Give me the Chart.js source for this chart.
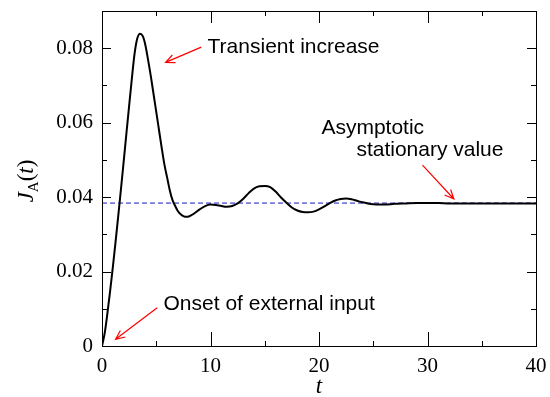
<!DOCTYPE html>
<html>
<head>
<meta charset="utf-8">
<script src="https://cdn.jsdelivr.net/npm/chart.js@4.4.1/dist/chart.umd.min.js"></script>
<style>
  html, body { margin: 0; padding: 0; background: #fff; }
  #wrap { width: 550px; height: 397px; }
</style>
</head>
<body>
<div id="wrap"><canvas id="grafico" width="550" height="397"></canvas></div>
<script>
// valores
const tempos = [0, 0.25, 0.5, 0.75, 1, 1.25, 1.5, 1.75, 2, 2.25, 2.5, 2.75, 3, 3.25, 3.5, 3.75,
  4, 4.25, 4.5, 4.75, 5, 5.25, 5.5, 5.75, 6, 6.25, 6.5, 6.75, 7, 7.25, 7.5, 7.75, 8, 8.5, 9, 9.5,
  10, 10.5, 11, 11.5, 12, 12.5, 13, 13.5, 14, 14.5, 15, 15.5, 16, 16.5, 17, 17.5, 18, 18.5, 19, 19.5,
  20, 20.5, 21, 21.5, 22, 22.5, 23, 23.5, 24, 24.5, 25, 25.5, 26, 27, 28, 29, 30, 31, 32, 33,
  34, 35, 36, 37, 38, 39, 40];
const fluxoJA = [0, 0.0035, 0.0088, 0.0148, 0.0212, 0.028, 0.035, 0.0422, 0.0496, 0.0571, 0.0645, 0.0718,
  0.0785, 0.0826, 0.0839, 0.0833, 0.0808, 0.0768, 0.0725, 0.0677, 0.0629, 0.0581, 0.0533, 0.0488,
  0.0453, 0.0418, 0.0392, 0.0376, 0.0362, 0.0354, 0.0349, 0.0347, 0.0348, 0.0356, 0.0367, 0.0376,
  0.038, 0.0379, 0.0376, 0.0374, 0.0376, 0.0383, 0.0395, 0.041, 0.0423, 0.0429,
  0.043, 0.0427, 0.0415, 0.0399, 0.0385, 0.0372, 0.0364, 0.036, 0.0359, 0.0361,
  0.0367, 0.0375, 0.0384, 0.0391, 0.0395, 0.0396, 0.0394, 0.039, 0.0386, 0.0383,
  0.0381, 0.038, 0.038, 0.0382, 0.0383, 0.0384, 0.0384, 0.0384, 0.0383, 0.0383,
  0.0383, 0.0383, 0.0383, 0.0383, 0.0383, 0.0383, 0.0383];
const valorEstacionario = 0.0384;
const ticksX = [0, 10, 20, 30, 40];
const ticksY = [0, 0.02, 0.04, 0.06, 0.08];

// anotacoes em unidades de dados
const anotacoes = [
  { linhas: ['Transient increase'], t: 9.73, j: 0.0803, seta: [9.15, 0.0803, 5.86, 0.0762] },
  { linhas: ['Asymptotic', 'stationary value'], t: 20.22, j: 0.0585, recuo: [0, 35], passo: 0.0059,
    seta: [29.54, 0.0486, 32.43, 0.0395] },
  { linhas: ['Onset of external input'], t: 5.67, j: 0.01128, seta: [5.09, 0.01028, 1.25, 0.0018] }
];

const pontosCurva = tempos.map((t, i) => ({ x: t, y: fluxoJA[i] }));
const pontosEstacionario = [{ x: 0, y: valorEstacionario }, { x: 40, y: valorEstacionario }];

function seta(ctx, x1, y1, x2, y2) {
  const ang = Math.atan2(y2 - y1, x2 - x1);
  const tam = 10, abre = 0.42;
  ctx.beginPath();
  ctx.moveTo(x1, y1);
  ctx.lineTo(x2, y2);
  ctx.moveTo(x2 - tam * Math.cos(ang - abre), y2 - tam * Math.sin(ang - abre));
  ctx.lineTo(x2, y2);
  ctx.lineTo(x2 - tam * Math.cos(ang + abre), y2 - tam * Math.sin(ang + abre));
  ctx.stroke();
}

const moldura = {
  id: 'moldura',
  afterDraw(chart) {
    const ctx = chart.ctx;
    const a = chart.chartArea;
    const sx = chart.scales.x, sy = chart.scales.y;
    ctx.save();
    ctx.strokeStyle = '#000';
    ctx.lineWidth = 1;
    ctx.strokeRect(Math.round(a.left) + 0.5, Math.round(a.top) + 0.5,
      Math.round(a.right - a.left), Math.round(a.bottom - a.top));

    // marcas para dentro, nos quatro lados
    ctx.beginPath();
    for (let v = 0; v <= 40; v += 5) {
      const px = Math.round(sx.getPixelForValue(v)) + 0.5;
      const major = v % 10 === 0;
      const lb = major ? 14 : 5, lt = major ? 12 : 5;
      ctx.moveTo(px, a.bottom); ctx.lineTo(px, a.bottom - lb);
      ctx.moveTo(px, a.top); ctx.lineTo(px, a.top + lt);
    }
    for (let k = 0; k <= 9; k++) {
      const py = Math.round(sy.getPixelForValue(k / 100)) + 0.5;
      const l = k % 2 === 0 ? 9 : 5;
      ctx.moveTo(a.left, py); ctx.lineTo(a.left + l, py);
      ctx.moveTo(a.right, py); ctx.lineTo(a.right - l, py);
    }
    ctx.stroke();

    // titulos dos eixos
    ctx.fillStyle = '#000';
    ctx.textBaseline = 'alphabetic';
    ctx.font = 'italic 23px "Liberation Serif"';
    ctx.textAlign = 'center';
    ctx.fillText('t', (a.left + a.right) / 2, 393);

    ctx.save();
    ctx.translate(33, 181);
    ctx.rotate(-Math.PI / 2);
    const partes = [
      { s: 'J', f: 'italic 23px "Liberation Serif"', dy: 0 },
      { s: 'A', f: '15px "Liberation Serif"', dy: 5 },
      { s: '(', f: '23px "Liberation Serif"', dy: 0 },
      { s: 't', f: 'italic 23px "Liberation Serif"', dy: 0 },
      { s: ')', f: '23px "Liberation Serif"', dy: 0 }
    ];
    let total = 0;
    partes.forEach(p => { ctx.font = p.f; p.w = ctx.measureText(p.s).width; total += p.w; });
    let x = -total / 2;
    ctx.textAlign = 'left';
    partes.forEach(p => { ctx.font = p.f; ctx.fillText(p.s, x, p.dy); x += p.w; });
    ctx.restore();

    // anotacoes
    ctx.font = '21px "Liberation Sans"';
    ctx.textAlign = 'left';
    ctx.textBaseline = 'middle';
    ctx.strokeStyle = '#ff0000';
    ctx.lineWidth = 1.2;
    anotacoes.forEach(an => {
      an.linhas.forEach((txt, i) => {
        const dx = an.recuo ? an.recuo[i] : 0;
        const jy = an.j - (an.passo || 0) * i;
        ctx.fillText(txt, sx.getPixelForValue(an.t) + dx, sy.getPixelForValue(jy));
      });
      const s = an.seta;
      seta(ctx, sx.getPixelForValue(s[0]), sy.getPixelForValue(s[1]),
        sx.getPixelForValue(s[2]), sy.getPixelForValue(s[3]));
    });
    ctx.restore();
  }
};

document.addEventListener('DOMContentLoaded', () => {
  const ctx = document.getElementById('grafico').getContext('2d');

  new Chart(ctx, {
    type: 'line',
    data: {
      datasets: [{
        data: pontosCurva,
        borderColor: '#000',
        borderWidth: 2,
        pointRadius: 0,
        cubicInterpolationMode: 'monotone',
        order: 1
      }, {
        data: pontosEstacionario,
        borderColor: '#1818c8',
        borderWidth: 1,
        borderDash: [5, 3],
        pointRadius: 0,
        order: 2
      }]
    },
    options: {
      responsive: false,
      animation: false,
      layout: { padding: { left: 0, right: 14, top: 11, bottom: 0 } },
      plugins: {
        legend: { display: false },
        tooltip: { enabled: false }
      },
      scales: {
        x: {
          type: 'linear',
          min: 0,
          max: 40,
          afterBuildTicks: s => { s.ticks = ticksX.map(v => ({ value: v })); },
          afterFit: s => { s.height = 51; s.paddingLeft = 0; s.paddingRight = 0; },
          grid: { display: false, drawTicks: false },
          border: { display: false },
          ticks: {
            padding: 8,
            color: '#000',
            font: { family: '"Liberation Serif"', size: 21 },
            maxRotation: 0,
            callback: v => String(v)
          }
        },
        y: {
          min: 0,
          max: 0.09,
          afterBuildTicks: s => { s.ticks = ticksY.map(v => ({ value: v })); },
          afterFit: s => { s.width = 102; s.paddingTop = 0; s.paddingBottom = 0; },
          grid: { display: false, drawTicks: false },
          border: { display: false },
          ticks: {
            padding: 9,
            color: '#000',
            font: { family: '"Liberation Serif"', size: 21 },
            callback: v => v === 0 ? '0' : v.toFixed(2)
          }
        }
      }
    },
    plugins: [moldura]
  });
});
</script>
</body>
</html>
